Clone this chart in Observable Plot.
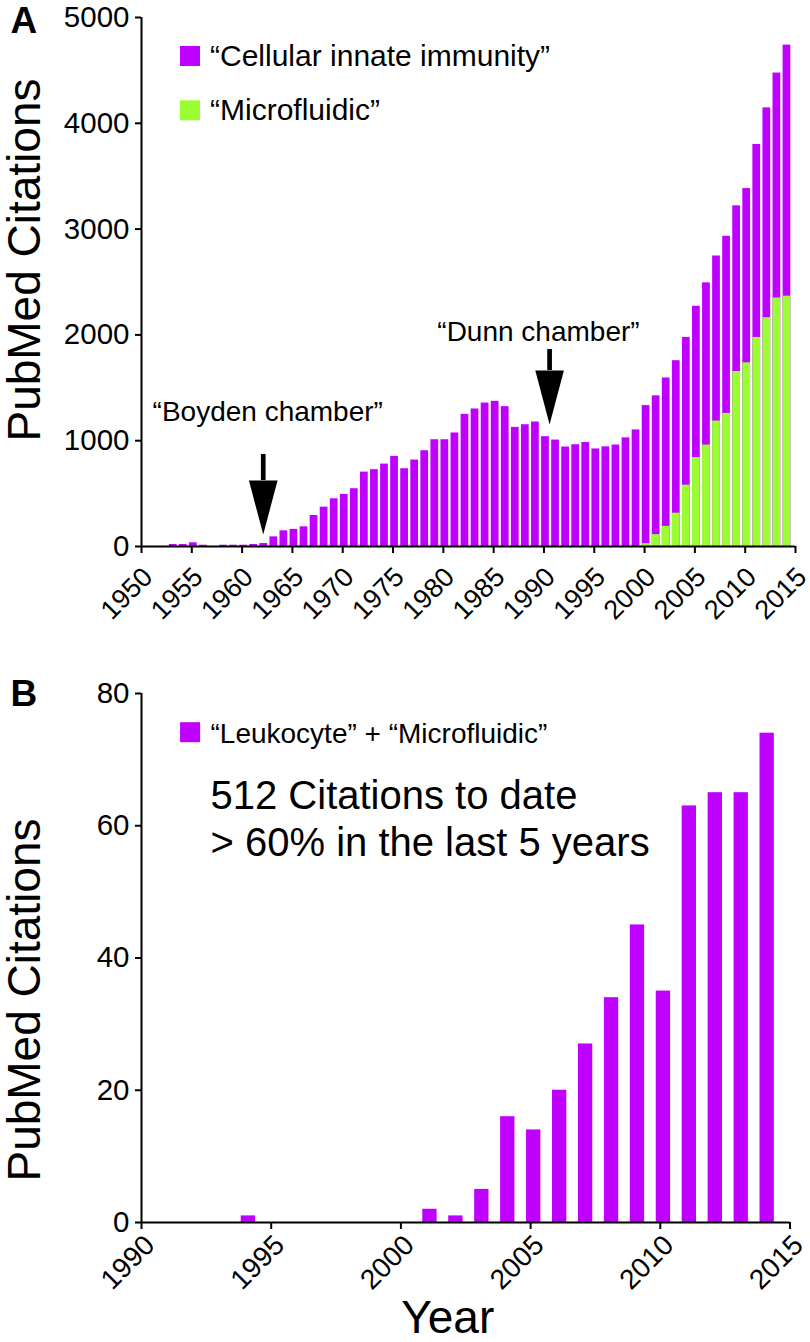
<!DOCTYPE html>
<html>
<head>
<meta charset="utf-8">
<script src="https://cdn.jsdelivr.net/npm/d3@7"></script>
<script src="https://cdn.jsdelivr.net/npm/@observablehq/plot@0.6"></script>
<style>
  html, body { margin: 0; padding: 0; background: #fff; }
  #chart { width: 810px; }
  #chart svg { display: block; }
</style>
</head>
<body>
<div id="chart"></div>
<script>
// ---------- Data ----------
// Panel A: "Cellular innate immunity" citations per year
const innateYears = [1953,1954,1955,1956,1957,1958,1959,1960,1961,1962,1963,1964,1965,1966,1967,1968,1969,1970,1971,1972,1973,1974,1975,1976,1977,1978,1979,1980,1981,1982,1983,1984,1985,1986,1987,1988,1989,1990,1991,1992,1993,1994,1995,1996,1997,1998,1999,2000,2001,2002,2003,2004,2005,2006,2007,2008,2009,2010,2011,2012,2013,2014];
const innateValues = [19,19,35,12,0,12,12,12,19,28,91,148,161,186,293,372,451,492,546,703,726,779,852,735,817,905,1009,1009,1073,1249,1300,1356,1372,1322,1126,1151,1177,1038,1006,940,962,983,922,942,959,1027,1102,1332,1424,1593,1756,1976,2271,2492,2746,2932,3220,3383,3800,4146,4475,4739];
// Panel A: "Microfluidic" citations per year
const microYears = [2000,2001,2002,2003,2004,2005,2006,2007,2008,2009,2010,2011,2012,2013,2014];
const microValues = [27,112,190,315,580,841,959,1186,1258,1654,1736,1976,2163,2349,2366];
// Panel B: "Leukocyte" + "Microfluidic"
const leukYears = [1994,2001,2002,2003,2004,2005,2006,2007,2008,2009,2010,2011,2012,2013,2014];
const leukValues = [1,2,1,5,16,14,20,27,34,45,35,63,65,65,74];

// Axis ticks
const xTicksA = [1950,1955,1960,1965,1970,1975,1980,1985,1990,1995,2000,2005,2010,2015];
const yTicksA = [0,1000,2000,3000,4000,5000];
const xTicksB = [1990,1995,2000,2005,2010,2015];
const yTicksB = [0,20,40,60,80];

// Labels
const seriesLabelsA = ["“Cellular innate immunity”", "“Microfluidic”"];
const seriesLabelB = "“Leukocyte” + “Microfluidic”";
const notesB = ["512 Citations to date", "> 60% in the last 5 years"];
const annotationsA = [
  {label: "“Boyden chamber”", textYear: 1951.1, textValue: 1190, arrowYear: 1962.1, tip: 113, headTop: 624, shaftTop: 870},
  {label: "“Dunn chamber”", textYear: 1979.4, textValue: 1947, arrowYear: 1990.56, tip: 1153, headTop: 1663, shaftTop: 1862}
];
const yTitle = "PubMed Citations";
const xTitle = "Year";

// ---------- Tables ----------
const dataInnate = innateYears.map((year, i) => ({year, value: innateValues[i]}));
const dataMicro = microYears.map((year, i) => ({year, value: microValues[i]}));
const dataLeuk = leukYears.map((year, i) => ({year, value: leukValues[i]}));

// ---------- Style ----------
const purple = "#bf00ff";
const green = "#99ff33";
const font = "'Liberation Sans', Arial, Helvetica, sans-serif";

// custom arrow-head symbol: apex at the anchor, pointing down
const arrowHead = {
  draw(context) {
    context.moveTo(-14.3, -54);
    context.lineTo(14.3, -54);
    context.lineTo(0, 0);
    context.closePath();
  }
};

// ---------- Panel A ----------
const offA = 0.15, halfA = 0.385;
const chartA = Plot.plot({
  width: 810,
  height: 640,
  marginLeft: 141,
  marginRight: 15,
  marginTop: 17,
  marginBottom: 94,
  style: {fontFamily: font, color: "#000", background: "#fff", overflow: "visible"},
  x: {domain: [xTicksA[0], xTicksA[xTicksA.length - 1]]},
  y: {domain: [yTicksA[0], yTicksA[yTicksA.length - 1]]},
  marks: [
    Plot.rectY(dataInnate, {x1: d => d.year + offA - halfA, x2: d => d.year + offA + halfA, y1: 0, y2: "value", fill: purple}),
    Plot.rectY(dataMicro, {x1: d => d.year + offA - halfA, x2: d => d.year + offA + halfA, y1: 0, y2: "value", fill: green}),
    Plot.ruleX([xTicksA[0]], {y1: yTicksA[0], y2: yTicksA[yTicksA.length - 1], stroke: "#000", strokeWidth: 2}),
    Plot.ruleY([yTicksA[0]], {x1: xTicksA[0], x2: xTicksA[xTicksA.length - 1], stroke: "#000", strokeWidth: 2}),
    Plot.axisY({ticks: yTicksA, tickSize: 6, tickPadding: 6, fontSize: 29.5, label: null, strokeWidth: 2, tickFormat: d => String(d)}),
    Plot.axisX({ticks: xTicksA, tickSize: 7, label: null, strokeWidth: 2, tickFormat: () => ""}),
    Plot.text(xTicksA, {x: d => d, text: d => String(d), frameAnchor: "bottom", rotate: -45, textAnchor: "end", lineAnchor: "middle", dx: 6.5, dy: 26, fontSize: 27}),
    // legend
    Plot.dot([seriesLabelsA[0]], {frameAnchor: "top-left", dx: 48.5, dy: 38.5, symbol: "square", r: 11.3, fill: purple}),
    Plot.dot([seriesLabelsA[1]], {frameAnchor: "top-left", dx: 48.5, dy: 92.8, symbol: "square", r: 11.3, fill: green}),
    Plot.text([seriesLabelsA[0]], {frameAnchor: "top-left", text: d => d, dx: 68.5, dy: 48.5, textAnchor: "start", lineAnchor: "bottom", fontSize: 30}),
    Plot.text([seriesLabelsA[1]], {frameAnchor: "top-left", text: d => d, dx: 68.5, dy: 102.5, textAnchor: "start", lineAnchor: "bottom", fontSize: 30}),
    // annotations
    Plot.text(annotationsA, {x: "textYear", y: "textValue", text: "label", textAnchor: "start", lineAnchor: "bottom", fontSize: 28}),
    Plot.ruleX(annotationsA, {x: "arrowYear", y1: "headTop", y2: "shaftTop", stroke: "#000", strokeWidth: 4.7}),
    Plot.dot(annotationsA, {x: "arrowYear", y: "tip", symbol: arrowHead, fill: "#000", stroke: "none"}),
    // panel letter + y title
    Plot.text(["A"], {frameAnchor: "top-left", dx: -131, dy: 15, textAnchor: "start", lineAnchor: "bottom", fontSize: 37, fontWeight: "bold"}),
    Plot.text([yTitle], {frameAnchor: "left", dx: -102, dy: -22, rotate: -90, textAnchor: "middle", lineAnchor: "bottom", fontSize: 46})
  ]
});

// ---------- Panel B ----------
const offB = 0.12, halfB = 0.276;
const chartB = Plot.plot({
  width: 810,
  height: 702,
  marginLeft: 141,
  marginRight: 20.5,
  marginTop: 53,
  marginBottom: 120,
  style: {fontFamily: font, color: "#000", background: "#fff", overflow: "visible"},
  x: {domain: [xTicksB[0], xTicksB[xTicksB.length - 1]]},
  y: {domain: [yTicksB[0], yTicksB[yTicksB.length - 1]]},
  marks: [
    Plot.rectY(dataLeuk, {x1: d => d.year + offB - halfB, x2: d => d.year + offB + halfB, y1: 0, y2: "value", fill: purple}),
    Plot.ruleX([xTicksB[0]], {y1: yTicksB[0], y2: yTicksB[yTicksB.length - 1], stroke: "#000", strokeWidth: 2}),
    Plot.ruleY([yTicksB[0]], {x1: xTicksB[0], x2: xTicksB[xTicksB.length - 1], stroke: "#000", strokeWidth: 2}),
    Plot.axisY({ticks: yTicksB, tickSize: 6, tickPadding: 6, fontSize: 29.5, label: null, strokeWidth: 2}),
    Plot.axisX({ticks: xTicksB, tickSize: 7, label: null, strokeWidth: 2, tickFormat: () => ""}),
    Plot.text(xTicksB, {x: d => d, text: d => String(d), frameAnchor: "bottom", rotate: -45, textAnchor: "end", lineAnchor: "middle", dx: 8.5, dy: 18, fontSize: 28}),
    // legend + notes
    Plot.dot([seriesLabelB], {frameAnchor: "top-left", dx: 48.6, dy: 38.7, symbol: "square", r: 11.3, fill: purple}),
    Plot.text([seriesLabelB], {frameAnchor: "top-left", text: d => d, dx: 69, dy: 49.3, textAnchor: "start", lineAnchor: "bottom", fontSize: 28}),
    Plot.text([notesB[0]], {frameAnchor: "top-left", text: d => d, dx: 69, dy: 115.3, textAnchor: "start", lineAnchor: "bottom", fontSize: 40}),
    Plot.text([notesB[1]], {frameAnchor: "top-left", text: d => d, dx: 69, dy: 162.7, textAnchor: "start", lineAnchor: "bottom", fontSize: 40}),
    // panel letter, titles
    Plot.text(["B"], {frameAnchor: "top-left", dx: -131, dy: 12, textAnchor: "start", lineAnchor: "bottom", fontSize: 37, fontWeight: "bold"}),
    Plot.text([yTitle], {frameAnchor: "left", dx: -102, dy: 42, rotate: -90, textAnchor: "middle", lineAnchor: "bottom", fontSize: 46}),
    Plot.text([xTitle], {frameAnchor: "bottom", dx: -18, dy: 110, textAnchor: "middle", lineAnchor: "bottom", fontSize: 46})
  ]
});

const root = document.getElementById("chart");
root.append(chartA, chartB);
</script>
</body>
</html>
